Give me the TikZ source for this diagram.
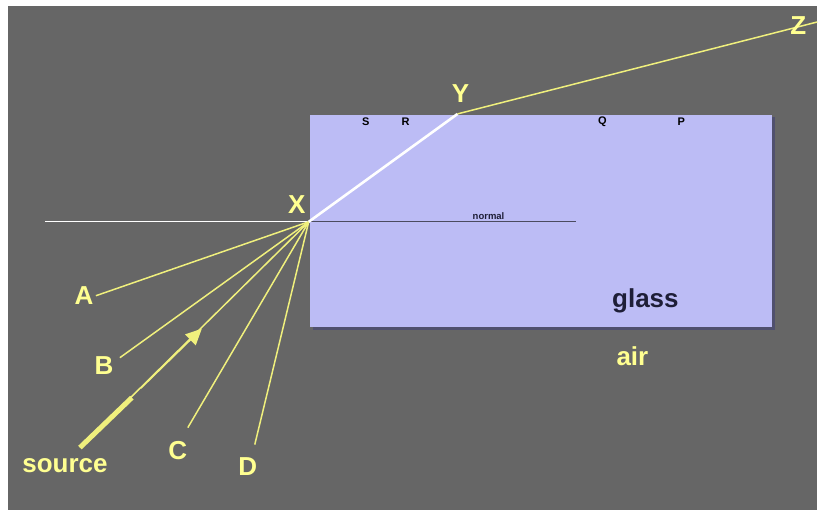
\documentclass[tikz,border=0pt]{standalone}
\usepackage{fontspec}
\setmainfont{Liberation Sans}
\usepackage{tikz}
\usetikzlibrary{arrows.meta, calc}

\definecolor{bggray}{RGB}{102,102,102}
\definecolor{glassfill}{RGB}{188,188,245}
\definecolor{glassedge}{RGB}{80,80,110}
\definecolor{rayyellow}{RGB}{240,240,125}
\definecolor{labyellow}{RGB}{255,255,145}
\definecolor{inkblue}{RGB}{30,30,55}

\begin{document}
\begin{tikzpicture}[
  x=1pt, y=-1pt,
  lab/.style={font=\fontsize{26}{26}\selectfont\bfseries, text=labyellow, inner sep=0pt},
  sidelab/.style={font=\fontsize{11}{11}\selectfont\bfseries, text=black, inner sep=0pt},
  ray/.style={rayyellow, line width=1.5pt},
]
  % background
  \fill[white] (0,0) rectangle (818,510);
  \fill[bggray] (8,6) rectangle (818,510);

  % glass block
  \fill[glassedge] (313,117) rectangle (776,330);
  \fill[glassfill] (310,115) rectangle (773,327);

  % points
  \coordinate (X) at (309,222);
  \coordinate (Y) at (458,114);
  \coordinate (Z) at (818,22);
  \coordinate (nl) at (45,222);
  \coordinate (nm) at (310,222);
  \coordinate (nr) at (577,222);
  \coordinate (a) at (96,296);
  \coordinate (b) at (120,358);
  \coordinate (c) at (188,428);
  \coordinate (d) at (255,445);
  \coordinate (src) at (80,448);
  \coordinate (srcthick) at (132,398);
  \coordinate (arrtip) at (202,329);

  % normal
  \draw[white, line width=1pt] (nl) -- (nm);
  \draw[inkblue!80, line width=1pt] (nm) -- (nr);
  \node[font=\fontsize{9.5}{9.5}\selectfont\bfseries, text=inkblue, inner sep=0pt] (normal) at (489,216) {normal};

  % rays
  \draw[ray] (X) -- (a);
  \draw[ray] (X) -- (b);
  \draw[ray] (X) -- (c);
  \draw[ray] (X) -- (d);
  \draw[ray] (X) -- (src);
  \draw[rayyellow, line width=5pt] (src) -- (srcthick);
  \draw[ray, -{Triangle[length=16pt, width=15pt]}] ($(arrtip)!0.5!(src)$) -- (arrtip);
  \draw[white, line width=2.6pt] (X) -- (Y);
  \draw[ray] (Y) -- (Z);

  % labels
  \node[lab] (lX) at (297,205) {X};
  \node[lab] (lY) at (461,94) {Y};
  \node[lab] (lZ) at (799,26) {Z};
  \node[lab] (lA) at (84,296) {A};
  \node[lab] (lB) at (104,366) {B};
  \node[lab] (lC) at (178,451) {C};
  \node[lab] (lD) at (248,467) {D};
  \node[lab] (lsource) at (65,466) {source};
  \node[lab] (lair) at (633,357) {air};
  \node[lab, text=inkblue] (lglass) at (646,301) {glass};

  \node[sidelab] (S) at (366,122) {S};
  \node[sidelab] (R) at (406,122) {R};
  \node[sidelab] (Q) at (603,122) {Q};
  \node[sidelab] (P) at (682,122) {P};
\end{tikzpicture}
\end{document}
